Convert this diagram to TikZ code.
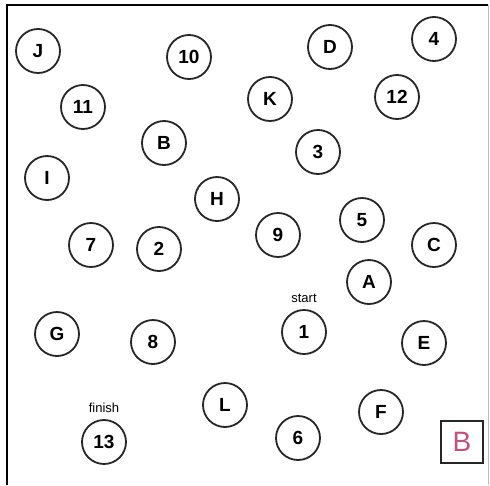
\documentclass[tikz,border=0pt]{standalone}
\usepackage{fontspec}
\setsansfont{Liberation Sans}
\usetikzlibrary{positioning}
\definecolor{formpink}{RGB}{196,80,120}

\begin{document}
\begin{tikzpicture}[
  x=1pt, y=-1pt,
  font=\sffamily,
  trail/.style={circle, draw=black!85, line width=1.8pt, minimum size=44pt, inner sep=0pt,
                font=\sffamily\bfseries\fontsize{19}{19}\selectfont},
  tag/.style={font=\sffamily\fontsize{13}{13}\selectfont, inner sep=0pt},
  formbox/.style={rectangle, draw=black!85, line width=1.6pt, minimum size=42pt, inner sep=0pt,
                  text=formpink, font=\sffamily\fontsize{28}{28}\selectfont},
]
\useasboundingbox (0,0) rectangle (490,485);

% ------------------------------------------------------------------ frame
\draw[line width=1.6pt, black] (7,485) -- (7,5) -- (488,5);
\draw[line width=0.8pt, black!25] (488,5) -- (488,485);

% ---------------------------------------------------------------- numbers
\node[trail] (n1)  at (304,332) {1};
\node[trail] (n2)  at (159,249) {2};
\node[trail] (n3)  at (318,152) {3};
\node[trail] (n4)  at (434,39)  {4};
\node[trail] (n5)  at (362,220) {5};
\node[trail] (n6)  at (298,438) {6};
\node[trail] (n7)  at (91,245)  {7};
\node[trail] (n8)  at (153,342) {8};
\node[trail] (n9)  at (278,235) {9};
\node[trail] (n10) at (189,57)  {10};
\node[trail] (n11) at (83,107)  {11};
\node[trail] (n12) at (397,97)  {12};
\node[trail] (n13) at (104,442) {13};

% ---------------------------------------------------------------- letters
\node[trail] (lA) at (369,282) {A};
\node[trail] (lB) at (164,143) {B};
\node[trail] (lC) at (434,245) {C};
\node[trail] (lD) at (330,47)  {D};
\node[trail] (lE) at (424,343) {E};
\node[trail] (lF) at (381,412) {F};
\node[trail] (lG) at (57,334)  {G};
\node[trail] (lH) at (217,199) {H};
\node[trail] (lI) at (47,178)  {I};
\node[trail] (lJ) at (38,51)   {J};
\node[trail] (lK) at (270,99)  {K};
\node[trail] (lL) at (225,405) {L};

% ------------------------------------------------------------------ labels
\node[tag, above=6pt of n1]  (start)  {start};
\node[tag, above=6pt of n13] (finish) {finish};

\node[formbox] (form) at (462,442) {B};

\end{tikzpicture}
\end{document}
